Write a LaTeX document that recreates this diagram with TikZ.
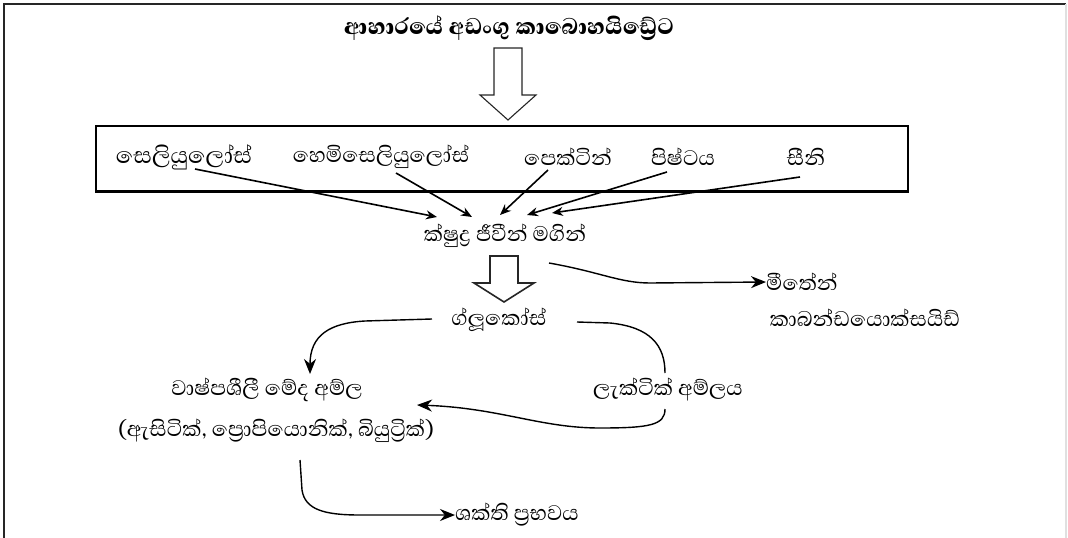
\documentclass[tikz,border=0pt]{standalone}
\usepackage{fontspec}
\setmainfont[Script=Sinhala,BoldFont={Abhaya Libre ExtraBold}]{Abhaya Libre}
\usetikzlibrary{arrows.meta}
\begin{document}
\begin{tikzpicture}[x=1pt,y=-1pt,
  lbl/.style={inner sep=0pt,font=\fontsize{27}{30}\selectfont},
  ttl/.style={inner sep=0pt,font=\fontsize{29}{32}\selectfont\bfseries},
  flow/.style={line width=1.4pt,-{Stealth[length=15pt,width=12pt]}},
  thin flow/.style={line width=1.6pt,-{Stealth[length=11pt,width=9pt]}},
  hollow/.style={draw=black!85,line width=1.1pt,fill=white,line join=miter}]
\useasboundingbox (0,0) rectangle (1068,538);
% frame
\draw[line width=2pt,black!85] (4,538) -- (4,4) -- (1066,4);
\draw[line width=1.5pt,black!12] (1066,4) -- (1066,538);

% title and first hollow arrow
\node[ttl] (title) at (509,28) {ආහාරයේ අඩංගු කාබොහයිඩ්^^^^200dරේට};
\draw[hollow] (494,48) -- (522,48) -- (522,95) -- (536,95) -- (508,120) -- (480,95) -- (494,95) -- cycle;

% carbohydrate box
\draw[line width=1.2pt] (96,191) -- (96,126) -- (908,126) -- (908,191);
\draw[line width=3pt] (95,191) -- (909,191);
\node[lbl,font=\fontsize{29}{32}\selectfont] (cel)  at (184,157) {සෙලියුලෝස්};
\node[lbl] (hemi) at (381,157) {හෙමිසෙලියුලෝස්};
\node[lbl] (pec)  at (568,157) {පෙක්ටින්};
\node[lbl] (sta)  at (683,157) {පිෂ්ටය};
\node[lbl] (sug)  at (806,157) {සීනි};

\node[lbl] (micro) at (505,236) {ක්ෂුද්^^^^200dර ජීවීන් මගින්};
\coordinate (s1) at (195,169);
\coordinate (s2) at (396,173);
\coordinate (s3) at (548,170);
\coordinate (s4) at (667,172);
\coordinate (s5) at (800,177);
\coordinate (t1) at (437,217);
\coordinate (t2) at (472,217);
\coordinate (t3) at (500,215);
\coordinate (t4) at (527,215);
\coordinate (t5) at (552,213);
\foreach \i in {1,...,5} \draw[thin flow] (s\i) -- (t\i);

% second hollow arrow
\draw[hollow,line width=1.6pt] (490,256) -- (518,256) -- (518,283) -- (534,283) -- (504,302) -- (474,283) -- (490,283) -- cycle;
\node[lbl] (glu) at (499,320) {ග්ලූකෝස්};

% methane / carbon dioxide
\node[lbl,anchor=west] (meth) at (766,282) {මීතේන්};
\node[lbl] (co2) at (865,318) {කාබන්ඩයොක්සයිඩ්};
\coordinate (m0) at (549,263);
\draw[flow] (m0) .. controls (600,272) and (620,283) .. (650,283) -- (meth.west);

% volatile fatty acids
\node[lbl] (vfa) at (267,390) {වාෂ්පශීලී මේද අම්ල};
\node[lbl] (vfan) at (276,431) {(ඇසිටික්, ප්^^^^200dරොපියොනික්, බියුට්^^^^200dරික්)};
\coordinate (g0) at (432,319);
\draw[flow] (g0) -- (365,321) .. controls (330,323) and (310,335) .. (310,374);

% lactic acid
\node[lbl] (lac) at (668,390) {ලැක්ටික් අම්ලය};
\coordinate (g1) at (577,322);
\coordinate (l0) at (665,373);
\draw[line width=1.4pt] (g1) -- (610,323) .. controls (650,327) and (665,345) .. (l0);
\coordinate (l1) at (665,409);
\coordinate (v0) at (417,405);
\draw[flow] (l1) .. controls (665,425) and (650,428) .. (600,428)
  .. controls (540,428) and (500,408) .. (v0);

% energy source
\node[lbl,anchor=west] (ene) at (455,515) {ශක්ති ප්^^^^200dරභවය};
\coordinate (e0) at (300,460);
\draw[flow] (e0) -- (302,490) .. controls (305,510) and (325,515) .. (360,515) -- (ene.west);
\end{tikzpicture}
\end{document}
